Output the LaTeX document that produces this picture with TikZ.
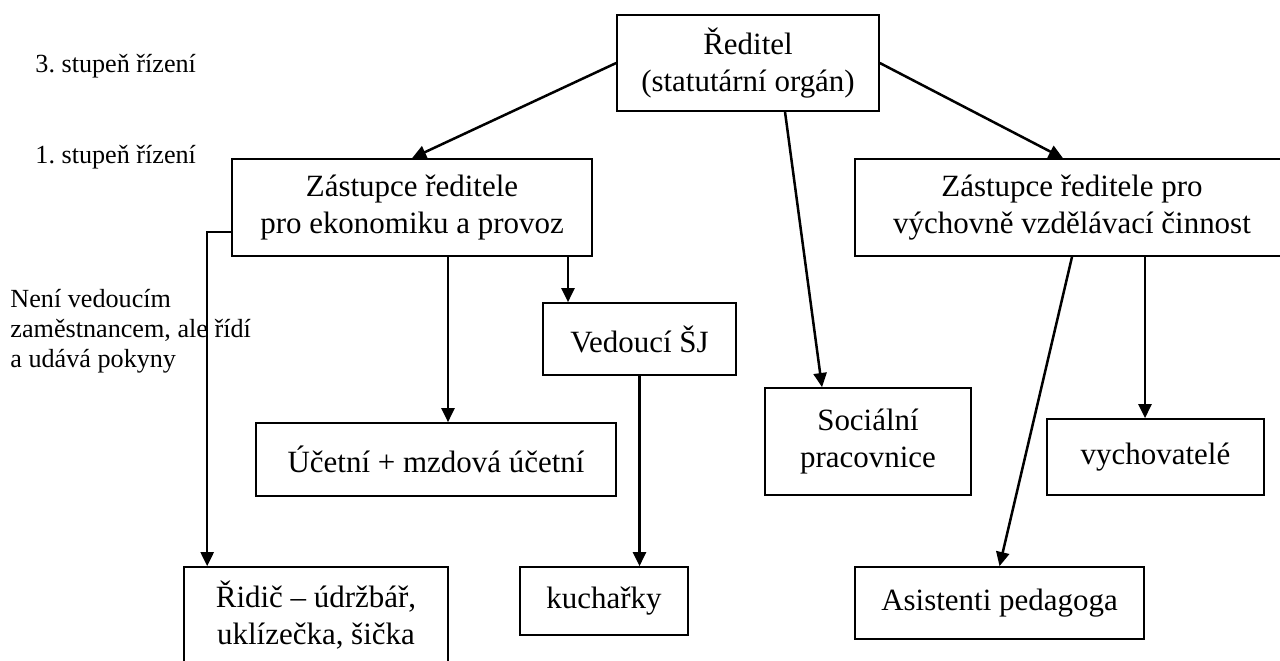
\documentclass[tikz,border=0pt]{standalone}
\usepackage{fontspec}
\setmainfont{Liberation Serif}
\frenchspacing
\usetikzlibrary{arrows.meta}
\newcommand{\pxl}{0.45872pt}
\tikzset{
  box/.style={draw, line width=0.75pt, inner sep=0pt, align=center,
    font=\fontsize{14.2pt}{17pt}\selectfont},
  arr/.style={line width=1.15pt, -{Triangle[length=6.5pt,width=6pt]}},
  lbl/.style={inner sep=0pt, align=left, font=\fontsize{12pt}{13.8pt}\selectfont},
}
\begin{document}
\begin{tikzpicture}[x=0.45872pt,y=-0.45872pt]
\useasboundingbox (0,0) rectangle (1280,660);
\clip (0,0) rectangle (1280,660);
% boxes
\node[box, minimum width=262*\pxl, minimum height=96*\pxl] (dir) at (748,63) {Ředitel\\(statutární orgán)};
\node[box, minimum width=360*\pxl, minimum height=97*\pxl] (ekon) at (412,207.5) {Zástupce ředitele\\pro ekonomiku a provoz};
\node[box, minimum width=434*\pxl, minimum height=97*\pxl] (vych) at (1072,207.5) {Zástupce ředitele pro\\výchovně vzdělávací činnost};
\node[box, minimum width=193*\pxl, minimum height=72*\pxl] (sj) at (639.5,339) {Vedoucí ŠJ};
\node[box, minimum width=360*\pxl, minimum height=73*\pxl] (uc) at (436,459.5) {Účetní + mzdová účetní};
\node[box, minimum width=264*\pxl, minimum height=96*\pxl] (rid) at (316,615) {Řidič – údržbář,\\uklízečka, šička};
\node[box, minimum width=168*\pxl, minimum height=68*\pxl] (kuch) at (604,601) {kuchařky};
\node[box, minimum width=206*\pxl, minimum height=107*\pxl] (soc) at (868,441.5) {Sociální\\pracovnice};
\node[box, minimum width=217*\pxl, minimum height=76*\pxl] (vyc) at (1155.5,457) {vychovatelé};
\node[box, minimum width=289*\pxl, minimum height=72*\pxl] (asi) at (999.5,603) {Asistenti pedagoga};
% labels
\node[lbl, anchor=base west] (l3) at (35,72) {3. stupeň řízení};
\node[lbl, anchor=base west] (l1) at (35,163) {1. stupeň řízení};
\node[lbl, anchor=north west] (note) at (10,289) {Není vedoucím\\zaměstnancem, ale řídí\\a udává pokyny};
% helper coordinates
\coordinate (e0) at ([yshift=-24.5*\pxl]ekon.west);
\coordinate (e1) at ([xshift=36*\pxl]ekon.south);
\coordinate (e2) at ([xshift=156*\pxl]ekon.south);
\coordinate (v2) at ([xshift=73*\pxl]vych.south);
\coordinate (r0) at ([xshift=24*\pxl]rid.north west);
% connectors
\draw[arr] (dir.west) -- (ekon.north);
\draw[arr] (dir.east) -- ([xshift=-9*\pxl]vych.north);
\draw[arr] ([xshift=37*\pxl]dir.south) -- ([xshift=-46*\pxl]soc.north);
\draw[arr] (e0) -| (r0);
\draw[arr] (e1) -- (e1 |- uc.north);
\draw[arr] (e2) -- (e2 |- sj.north);
\draw[arr] (sj.south) -- (sj.south |- kuch.north);
\draw[arr] (vych.south) -- (asi.north);
\draw[arr] (v2) -- (v2 |- vyc.north);
\end{tikzpicture}
\end{document}
